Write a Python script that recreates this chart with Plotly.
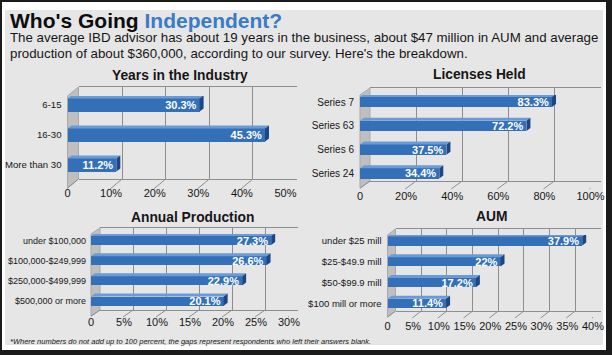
import plotly.graph_objects as go

# ---------------- data ----------------
years_cats = ["6-15", "16-30", "More than 30"]
years_vals = [30.3, 45.3, 11.2]
years_ticks = [0, 10, 20, 30, 40, 50]
years_ticktext = ["0", "10%", "20%", "30%", "40%", "50%"]

lic_cats = ["Series 7", "Series 63", "Series 6", "Series 24"]
lic_vals = [83.3, 72.2, 37.5, 34.4]
lic_ticks = [0, 20, 40, 60, 80, 100]
lic_ticktext = ["0", "20%", "40%", "60%", "80%", "100%"]

prod_cats = ["under $100,000", "$100,000-$249,999", "$250,000-$499,999", "$500,000 or more"]
prod_vals = [27.3, 26.6, 22.9, 20.1]
prod_ticks = [0, 5, 10, 15, 20, 25, 30]
prod_ticktext = ["0", "5%", "10%", "15%", "20%", "25%", "30%"]

aum_cats = ["under $25 mill", "$25-$49.9 mill", "$50-$99.9 mill", "$100 mill or more"]
aum_vals = [37.9, 22, 17.2, 11.4]
aum_ticks = [0, 5, 10, 15, 20, 25, 30, 35, 40]
aum_ticktext = ["0", "5%", "10%", "15%", "20%", "25%", "30%", "35%", "40%"]

panel_titles = ["Years in the Industry", "Licenses Held", "Annual Production", "AUM"]
title_main = "Who's Going "
title_blue = "Independent?"
subtitle_1 = "The average IBD advisor has about 19 years in the business, about $47 million in AUM and average"
subtitle_2 = "production of about $360,000, according to our survey. Here's the breakdown."
footnote = "*Where numbers do not add up to 100 percent, the gaps represent respondents who left their answers blank."

# ---------------- geometry (pixels) ----------------
W, H = 612, 355
FONT = "Liberation Sans, Arial, sans-serif"
BAR = "#3470b8"
BAR_SIDE = "#1d4784"
BAR_TOP = "#6b9bd6"
GRID = "#8e8e8e"
PANEL_BG = "#e6e6e7"
TEXT = "#161616"

panels = [
    dict(cats=years_cats, vals=years_vals, ticks=years_ticks, ticktext=years_ticktext,
         f0=67.5, f1=285.5, fbot=188, btop=87, dx=11, dy=9, c0=105, s=30, bw=0.44,
         title_xy=(180, 76), lab_std=5, lab_size=9.6, tick_std=-3),
    dict(cats=lic_cats, vals=lic_vals, ticks=lic_ticks, ticktext=lic_ticktext,
         f0=360, f1=590.5, fbot=188, btop=88, dx=10, dy=7, c0=102, s=23.8, bw=0.43,
         title_xy=(479, 75), lab_std=5, lab_size=10, tick_std=0),
    dict(cats=prod_cats, vals=prod_vals, ticks=prod_ticks, ticktext=prod_ticktext,
         f0=91, f1=289, fbot=316, btop=228, dx=9, dy=6, c0=240.5, s=20.2, bw=0.45,
         title_xy=(192, 217), lab_std=4, lab_size=9, tick_std=-2),
    dict(cats=aum_cats, vals=aum_vals, ticks=aum_ticks, ticktext=aum_ticktext,
         f0=387.5, f1=593, fbot=317, btop=229, dx=8, dy=6, c0=241, s=20.8, bw=0.44,
         title_xy=(491, 216), lab_std=5, lab_size=9.5, tick_std=1),
]


def px(x):
    return x / W


def py(y):
    return 1 - y / H


fig = go.Figure()
shapes = []
annotations = []

# frame
shapes.append(dict(type="rect", xref="paper", yref="paper", x0=px(2), x1=px(606), y0=py(350), y1=py(2),
                   fillcolor="white", line=dict(width=0), layer="below"))
shapes.append(dict(type="rect", xref="paper", yref="paper", x0=px(5), x1=px(603), y0=py(345), y1=py(10),
                   fillcolor=PANEL_BG, line=dict(width=0), layer="below"))

layout_axes = {}
for k, p in enumerate(panels):
    bi, fi = 2 * k + 1, 2 * k + 2
    bx = "x" if bi == 1 else f"x{bi}"
    by = "y" if bi == 1 else f"y{bi}"
    fx, fy = f"x{fi}", f"y{fi}"
    xmax = p["ticks"][-1]
    b0, b1 = p["f0"] + p["dx"], p["f1"] + p["dx"]
    bbot = p["fbot"] - p["dy"]
    ftop = p["btop"] + p["dy"]
    # back wall axes (grid)
    layout_axes[("xaxis" if bi == 1 else f"xaxis{bi}")] = dict(
        domain=[px(b0), px(b1)], range=[0, xmax], anchor=by, tickvals=p["ticks"],
        showgrid=True, gridcolor=GRID, gridwidth=1, showline=True, mirror=True, linecolor=GRID,
        linewidth=1, showticklabels=False, ticks="", zeroline=False, fixedrange=True, automargin=False)
    layout_axes[("yaxis" if bi == 1 else f"yaxis{bi}")] = dict(
        domain=[py(bbot), py(p["btop"])], range=[0, 1], anchor=bx, showgrid=False,
        showline=False, showticklabels=False, ticks="", zeroline=False, fixedrange=True, automargin=False)
    fig.add_trace(go.Scatter(x=[0], y=[0], xaxis=bx, yaxis=by, mode="markers",
                             marker=dict(opacity=0), hoverinfo="skip", showlegend=False))
    # front axes (bars, labels)
    n = len(p["cats"])
    yr = [(p["fbot"] - p["c0"]) / p["s"], (ftop - p["c0"]) / p["s"]]
    layout_axes[f"xaxis{fi}"] = dict(
        domain=[px(p["f0"]), px(p["f1"])], range=[0, xmax], anchor=fy, tickvals=p["ticks"],
        ticktext=p["ticktext"], showgrid=False, showline=False, zeroline=False, ticks="", tickangle=0,
        ticklabelstandoff=p["tick_std"], tickfont=dict(family=FONT, size=11, color=TEXT),
        fixedrange=True, automargin=False)
    layout_axes[f"yaxis{fi}"] = dict(
        domain=[py(p["fbot"]), py(ftop)], range=yr, anchor=fx, tickvals=list(range(n)),
        ticktext=p["cats"], showgrid=False, showline=False, zeroline=False, ticks="", tickangle=0,
        ticklabelstandoff=p["lab_std"], tickfont=dict(family=FONT, size=p["lab_size"], color=TEXT),
        fixedrange=True, automargin=False)
    fig.add_trace(go.Bar(
        x=p["vals"], y=list(range(n)), orientation="h", xaxis=fx, yaxis=fy, width=p["bw"],
        marker=dict(color=BAR, line=dict(width=0)), texttemplate="%{x}%", textposition="inside",
        insidetextanchor="end", textfont=dict(family=FONT, size=11, color="white", weight="bold"),
        constraintext="none", cliponaxis=False, hoverinfo="skip", showlegend=False))

    # left wall
    shapes.append(dict(type="path", xref="paper", yref="paper",
                       path=f"M {px(p['f0'])},{py(p['fbot'])} L {px(b0)},{py(bbot)} L {px(b0)},{py(p['btop'])} "
                            f"L {px(p['f0'])},{py(ftop)} Z",
                       fillcolor="#bfbfbf", line=dict(color="#a9a9a9", width=1), layer="below"))
    # floor diagonals
    for t in p["ticks"]:
        shapes.append(dict(type="line", xref=fx, yref=f"{fy} domain", xsizemode="pixel", ysizemode="pixel",
                           xanchor=t, yanchor=0, x0=p["dx"], y0=p["dy"], x1=-1, y1=-1,
                           line=dict(color=GRID, width=1), layer="below"))
    # bar depth faces
    ppx = (p["f1"] - p["f0"]) / xmax
    h = p["bw"] * p["s"]
    d, e = 4, 3
    for i, v in enumerate(p["vals"]):
        L = v * ppx
        shapes.append(dict(type="path", xref=fx, yref=fy, xsizemode="pixel", ysizemode="pixel",
                           xanchor=v, yanchor=i,
                           path=f"M {-L},{h/2} L 0,{h/2} L {d},{h/2+e} L {-L+d},{h/2+e} Z",
                           fillcolor=BAR_TOP, line=dict(width=0), layer="above"))
        shapes.append(dict(type="path", xref=fx, yref=fy, xsizemode="pixel", ysizemode="pixel",
                           xanchor=v, yanchor=i,
                           path=f"M 0,{-h/2} L 0,{h/2} L {d},{h/2+e} L {d},{-h/2+e} Z",
                           fillcolor=BAR_SIDE, line=dict(width=0), layer="above"))
    # panel title
    tx, ty = p["title_xy"]
    annotations.append(dict(xref="paper", yref="paper", x=px(tx), y=py(ty), xanchor="center", yanchor="middle",
                            text=f"<b>{panel_titles[k]}</b>", showarrow=False,
                            font=dict(family=FONT, size=13.8, color=TEXT)))

# header & footnote
annotations.append(dict(xref="paper", yref="paper", x=px(8), y=py(20), xanchor="left", yanchor="middle",
                        text=f"<b>{title_main}<span style='color:#3a7bc6'>{title_blue}</span></b>",
                        showarrow=False, font=dict(family=FONT, size=21, color="#0d0d0d")))
annotations.append(dict(xref="paper", yref="paper", x=px(8), y=py(38), xanchor="left", yanchor="middle",
                        text=subtitle_1, showarrow=False, font=dict(family=FONT, size=13.3, color=TEXT)))
annotations.append(dict(xref="paper", yref="paper", x=px(8), y=py(53), xanchor="left", yanchor="middle",
                        text=subtitle_2, showarrow=False, font=dict(family=FONT, size=13.3, color=TEXT)))
annotations.append(dict(xref="paper", yref="paper", x=px(8), y=py(341), xanchor="left", yanchor="middle",
                        text=f"<i>{footnote}</i>", showarrow=False, font=dict(family=FONT, size=7.5, color=TEXT)))

fig.update_layout(
    width=W, height=H, autosize=False, margin=dict(l=0, r=0, t=0, b=0, pad=0, autoexpand=False),
    paper_bgcolor="#1b1b1b", plot_bgcolor="rgba(0,0,0,0)",
    shapes=shapes, annotations=annotations, showlegend=False, bargap=0,
    font=dict(family=FONT, color=TEXT),
    **layout_axes,
)

fig.write_html("out.html", config={"displayModeBar": False, "staticPlot": True},
               post_script="document.body.style.margin='0';document.body.style.overflow='hidden';")
